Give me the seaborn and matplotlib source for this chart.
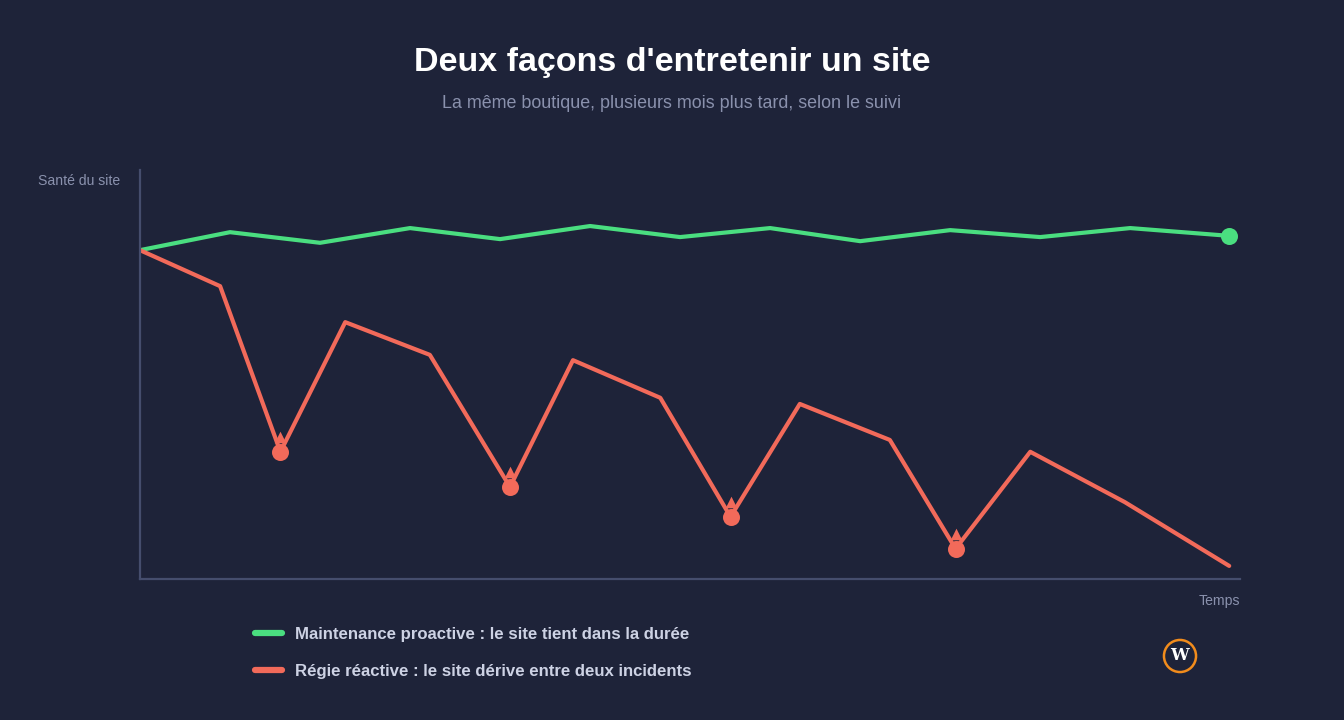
import matplotlib
matplotlib.use("Agg")
import matplotlib.pyplot as plt
import matplotlib.transforms as mtransforms
import pandas as pd
import seaborn as sns

# temps en mois, santé du site en %
mois_pro = [0, 1, 2, 3, 4, 5, 6, 7, 8, 9, 10, 11, 12.1]
sante_pro = [80.4, 84.8, 82.2, 85.8, 83.1, 86.3, 83.6, 85.8, 82.6, 85.3, 83.6, 85.8, 83.9]

mois_reac = [0, 0.89, 1.56, 2.28, 3.22, 4.11, 4.81, 5.78, 6.56, 7.33, 8.33, 9.06, 9.89, 10.94, 12.1]
sante_reac = [80.4, 71.6, 31.1, 62.8, 54.8, 22.5, 53.5, 44.3, 15.2, 42.8, 34.0, 7.4, 31.1, 18.8, 3.2]
incidents = [2, 5, 8, 11]

lab_pro = "Maintenance proactive : le site tient dans la durée"
lab_reac = "Régie réactive : le site dérive entre deux incidents"

bg = "#1e2339"
vert = "#4ade80"
rouge = "#f26a5a"
gris = "#8a91ad"
axe = "#454d6d"

df = pd.concat([
    pd.DataFrame({"mois": mois_pro, "sante": sante_pro, "suivi": lab_pro}),
    pd.DataFrame({"mois": mois_reac, "sante": sante_reac, "suivi": lab_reac}),
])

sns.set_style("dark")
plt.rcParams["font.family"] = ["Liberation Sans", "DejaVu Sans"]

fig = plt.figure(figsize=(13.44, 7.2), dpi=100, facecolor=bg)
ax = fig.add_axes([140 / 1344, 1 - 579 / 720, 1100 / 1344, 409 / 720])
ax.set_facecolor(bg)

sns.lineplot(data=df, x="mois", y="sante", hue="suivi", palette=[vert, rouge],
             sort=False, linewidth=3, ax=ax, legend=False)

# point final de la courbe verte
ax.scatter([mois_pro[-1]], [sante_pro[-1]], s=150, color=vert, zorder=5, linewidths=0)

# incidents : rond + petit triangle au-dessus
inc_x = [mois_reac[i] for i in incidents]
inc_y = [sante_reac[i] for i in incidents]
ax.scatter(inc_x, inc_y, s=150, color=rouge, zorder=5, linewidths=0)
tri = mtransforms.offset_copy(ax.transData, fig=fig, y=15, units="dots")
ax.scatter(inc_x, inc_y, s=70, marker="^", color=rouge, zorder=5, linewidths=0,
           transform=tri)

ax.set_xlim(0, 12.22)
ax.set_ylim(0, 100)
ax.set_xticks([])
ax.set_yticks([])
ax.set_xlabel("")
ax.set_ylabel("")
ax.grid(False)
for s in ["top", "right"]:
    ax.spines[s].set_visible(False)
for s in ["left", "bottom"]:
    ax.spines[s].set_visible(True)
    ax.spines[s].set_color(axe)
    ax.spines[s].set_linewidth(1.6)

fig.text(120 / 1344, 1 - 181 / 720, "Santé du site", color=gris, fontsize=10.1,
         ha="right", va="center")
fig.text(1240 / 1344, 1 - 601 / 720, "Temps", color=gris, fontsize=10.1,
         ha="right", va="center")

fig.text(0.5, 1 - 62 / 720, "Deux façons d'entretenir un site", color="white",
         fontsize=24.5, fontweight="bold", ha="center", va="center")
fig.text(0.5, 1 - 104 / 720, "La même boutique, plusieurs mois plus tard, selon le suivi",
         color=gris, fontsize=12.9, ha="center", va="center")

# légende
h1 = plt.Line2D([], [], color=vert, linewidth=4.5, solid_capstyle="round")
h2 = plt.Line2D([], [], color=rouge, linewidth=4.5, solid_capstyle="round")
leg = fig.legend([h1, h2], [lab_pro, lab_reac], loc="center left",
                 bbox_to_anchor=(240 / 1344, 1 - 653 / 720), frameon=False,
                 handlelength=1.6, handletextpad=0.75, labelspacing=1.3,
                 prop={"weight": "bold", "size": 12.1})
for t in leg.get_texts():
    t.set_color("#cdd2e4")

# logo
fig.text(1180 / 1344, 1 - 656 / 720, "W", color="white", fontsize=12,
         fontweight="bold", family="DejaVu Serif", ha="center", va="center",
         bbox=dict(boxstyle="circle,pad=0.4", facecolor=bg, edgecolor="#f28c1c",
                   linewidth=1.8))

fig.savefig("out.png", dpi=100, facecolor=bg)
